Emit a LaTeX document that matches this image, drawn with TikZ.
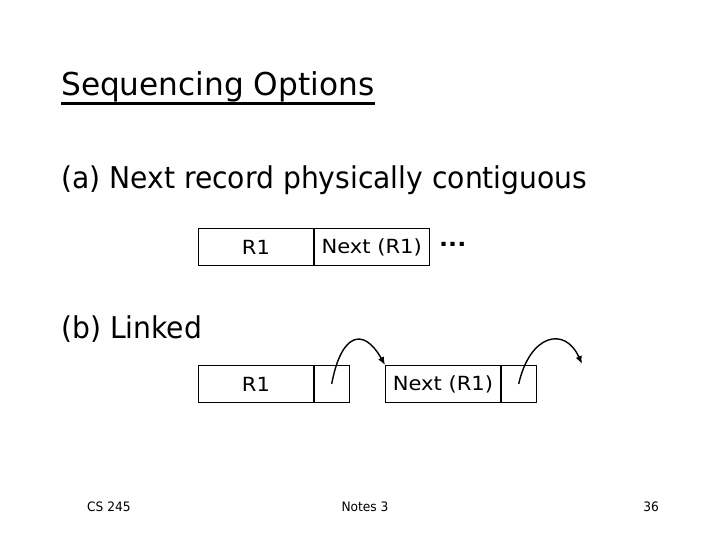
\documentclass[tikz,border=0pt]{standalone}
\usepackage{fontspec}
\setmainfont{DejaVu Sans}[FakeStretch=0.94]
\newfontfamily\titlefont{DejaVu Sans}[FakeStretch=0.99]
\newfontfamily\boxfont{DejaVu Sans}[FakeStretch=1.08]
\usetikzlibrary{arrows,arrows.meta,calc}

\begin{document}
\begin{tikzpicture}[x=1pt, y=-1pt,
                    record/.style={rectangle, draw, line width=0.8pt, inner sep=0pt,
                                   minimum height=37pt, minimum width=115pt,
                                   font=\boxfont\fontsize{19.5}{22}\selectfont},
                    pointer/.style={rectangle, draw, line width=0.8pt, inner sep=0pt,
                                    minimum height=37pt, minimum width=35pt},
                    link/.style={-{Latex[length=8pt,width=6.5pt]}, line width=1.4pt},
                    heading/.style={anchor=base west, inner sep=0pt,
                                    font=\fontsize{30}{36}\selectfont},
                    footer/.style={anchor=base, inner sep=0pt, font=\fontsize{13}{15}\selectfont}
                    ]
\useasboundingbox (0,0) rectangle (720,540);

\node[heading, font=\titlefont\fontsize{31.5}{38}\selectfont] (title) at (61,96) {Sequencing Options};
\draw[line width=2.4pt] ([yshift=-7.5pt]title.base west) -- ([yshift=-7.5pt]title.base east);
\node[heading] (opta) at (61,189) {(a) Next record physically contiguous};
\node[heading] (optb) at (61,338) {(b) Linked};

%% (a) contiguous
\node[record, anchor=north west] (ra) at (198,228) {R1};
\node[record, anchor=west] (nexta) at (ra.east) {Next (R1)};
\node[font=\boxfont\fontsize{22}{24}\selectfont\bfseries, anchor=base west, inner sep=0pt] (dots) at (439,246) {...};

%% (b) linked
\node[record, anchor=north west] (rb) at (198,365) {R1};
\node[pointer, anchor=west] (pb) at (rb.east) {};
\node[record, anchor=north west] (nextb) at (385,365) {Next (R1)};
\node[pointer, anchor=west] (pnext) at (nextb.east) {};
\coordinate (free) at (582,364);

\draw[link] (pb.center) .. controls (341,334) and (363,326) .. (nextb.north west);
\draw[link] (pnext.center) .. controls (530,334) and (565,326) .. (free);

\node[footer, anchor=base west] (course) at (87,511) {CS 245};
\node[footer] (notes) at (365,511) {Notes 3};
\node[footer, anchor=base east] (page) at (659,511) {36};
\end{tikzpicture}
\end{document}
